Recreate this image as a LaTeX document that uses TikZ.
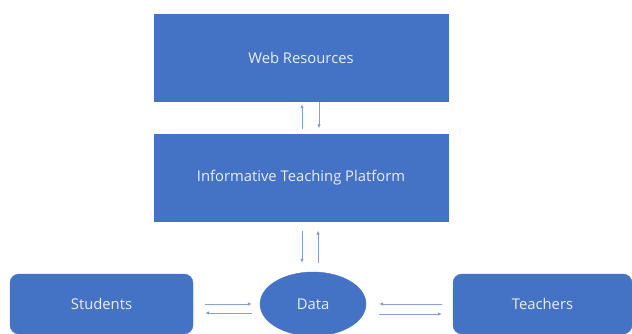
\documentclass[tikz,border=0pt]{standalone}
\usepackage{fontspec}
\setmainfont{Open Sans}
\usetikzlibrary{arrows.meta,shapes.geometric}
\definecolor{boxblue}{RGB}{68, 114, 196}
\definecolor{linkblue}{RGB}{132, 160, 214}
\definecolor{labelwhite}{RGB}{232, 238, 248}

\begin{document}
\begin{tikzpicture}[x=1pt, y=-1pt,
		box/.style={draw=boxblue, fill=boxblue, text=labelwhite, font=\fontsize{14.8}{18}\selectfont, inner sep=0pt},
		rbox/.style={box, rounded corners=9pt},
		flow/.style={draw=linkblue, line width=0.7pt, -{Latex[length=4pt, width=3.5pt, fill=boxblue]}}]
		
		\useasboundingbox (0,0) rectangle (632,334);
		
		% --- PLATFORM LAYERS ---
		\node[box, minimum width=294pt, minimum height=87pt] (web) at (301,57.5) {Web Resources};
		\node[box, minimum width=294pt, minimum height=87pt] (itp) at (301,178) {Informative Teaching Platform};
		
		% --- USERS AND DATA ---
		\node[rbox, minimum width=183pt, minimum height=60pt] (stud) at (101.5,304) {Students};
		\node[box, ellipse, minimum width=106pt, minimum height=64pt] (data) at (313,304) {Data};
		\node[rbox, minimum width=179pt, minimum height=60pt] (teach) at (542.5,304) {Teachers};
		
		% --- EXCHANGE ARROWS ---
		\draw[flow, shorten <=5pt, shorten >=3pt] ([xshift=1pt]itp.north) -- ([xshift=1pt]web.south);
		\draw[flow, shorten <=1pt, shorten >=6pt] ([xshift=18pt]web.south) -- ([xshift=18pt]itp.north);
		
		\draw[flow, shorten <=9pt, shorten >=9pt] ([xshift=1pt]itp.south) -- ([xshift=-11pt]data.north);
		\draw[flow, shorten <=9pt, shorten >=9pt] ([xshift=5pt]data.north) -- ([xshift=17pt]itp.south);
		
		\draw[flow, shorten <=12pt, shorten >=8pt] (stud.east) -- (data.west);
		\draw[flow, shorten <=8pt, shorten >=12pt] ([yshift=-9pt]data.west) -- ([yshift=-9pt]stud.east);
		
		\draw[flow, shorten <=11pt, shorten >=13pt] (teach.west) -- (data.east);
		\draw[flow, shorten <=13pt, shorten >=11pt] ([yshift=-10pt]data.east) -- ([yshift=-10pt]teach.west);
		
	\end{tikzpicture}
\end{document}
